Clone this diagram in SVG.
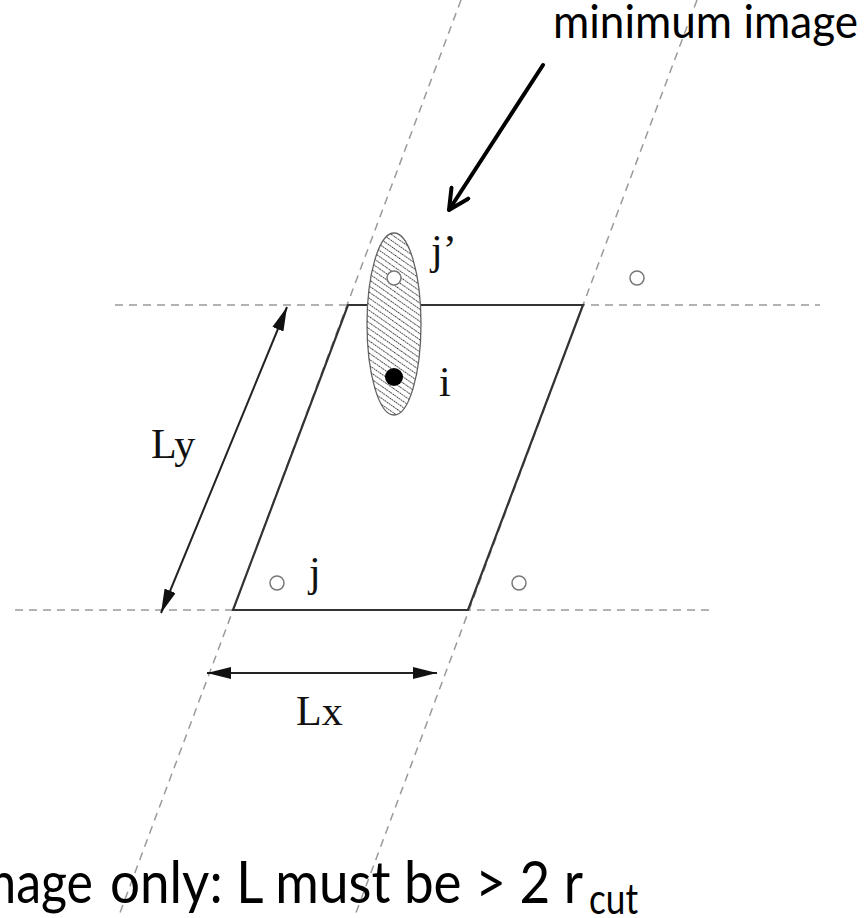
<svg xmlns="http://www.w3.org/2000/svg" width="868" height="918" viewBox="0 0 868 918">
<style>
.dash{stroke:#9a9a9a;stroke-width:1.5;fill:none;stroke-dasharray:8 6}
.solid{stroke:#333;stroke-width:2.2;fill:none}
.dim{stroke:#222;stroke-width:2;fill:none}
.open{fill:#fff;stroke:#777;stroke-width:1.5}
.lbl{font-family:"Liberation Serif","Times New Roman",serif;font-size:42px;fill:#111}
.cal{font-family:Lato,"Liberation Sans",sans-serif;fill:#000}
</style>
<defs>
<marker id="tri" viewBox="0 0 24 12" refX="24" refY="6" markerWidth="24" markerHeight="12" markerUnits="userSpaceOnUse" orient="auto-start-reverse">
<path d="M0,0 L24,6 L0,12 Z" fill="#111"/>
</marker>
<marker id="chev" viewBox="0 0 24 24" refX="22" refY="12" markerWidth="24" markerHeight="24" markerUnits="userSpaceOnUse" orient="auto">
<path d="M2,2 L22,12 L2,22" fill="none" stroke="#000" stroke-width="4" stroke-linecap="round" stroke-linejoin="round"/>
</marker>
<pattern id="hatch" width="5" height="5" patternUnits="userSpaceOnUse" patternTransform="rotate(35)">
<line x1="0" y1="2.5" x2="5" y2="2.5" stroke="#333" stroke-width="1.1" stroke-dasharray="1.6 1.1"/>
</pattern>
</defs>
<rect width="868" height="918" fill="#fff"/>
<g id="connectors">
<line class="dash" x1="115" y1="305" x2="820" y2="305"/>
<line class="dash" x1="15" y1="610" x2="710" y2="610"/>
<line class="dash" x1="461" y1="0" x2="118" y2="918"/>
<line class="dash" x1="697" y1="0" x2="354" y2="918"/>
<polygon id="cell" class="solid" points="233,610 468,610 583,305 348,305"/>
<line id="Ly-arrow" class="dim" x1="287" y1="307" x2="161" y2="613" marker-start="url(#tri)" marker-end="url(#tri)"/>
<line id="Lx-arrow" class="dim" x1="207" y1="673" x2="437" y2="673" marker-start="url(#tri)" marker-end="url(#tri)"/>
<line id="mi-arrow" x1="543" y1="65" x2="449" y2="210" stroke="#000" stroke-width="4" stroke-linecap="round" marker-end="url(#chev)"/>
</g>
<g id="region">
<ellipse cx="394" cy="324" rx="27" ry="91" fill="#fff" stroke="#666" stroke-width="1.3"/>
<ellipse cx="394" cy="324" rx="27" ry="91" fill="url(#hatch)"/>
</g>
<g id="node-jprime"><circle class="open" cx="394" cy="278" r="7"/><text class="lbl" x="431" y="264">j’</text></g>
<g id="node-i"><circle cx="394" cy="377" r="9" fill="#000"/><text class="lbl" x="439" y="396">i</text></g>
<g id="node-j"><circle class="open" cx="277" cy="583" r="7"/><text class="lbl" x="309" y="586">j</text></g>
<g id="node-br"><circle class="open" cx="519" cy="583" r="7"/></g>
<g id="node-tr"><circle class="open" cx="637" cy="278" r="7"/></g>
<g id="label-Ly"><text class="lbl" x="151" y="458">Ly</text></g>
<g id="label-Lx"><text class="lbl" x="296" y="725">Lx</text></g>
<g id="title"><text class="cal" x="553" y="38" font-size="47" textLength="305" lengthAdjust="spacingAndGlyphs">minimum image</text></g>
<g id="note"><text class="cal" font-size="58" y="903"><tspan x="-37" textLength="130" lengthAdjust="spacingAndGlyphs">image</tspan><tspan x="110" textLength="473" lengthAdjust="spacingAndGlyphs">only: L must be &gt; 2 r</tspan><tspan x="589" y="914" font-size="42" textLength="49" lengthAdjust="spacingAndGlyphs">cut</tspan></text></g>
</svg>
